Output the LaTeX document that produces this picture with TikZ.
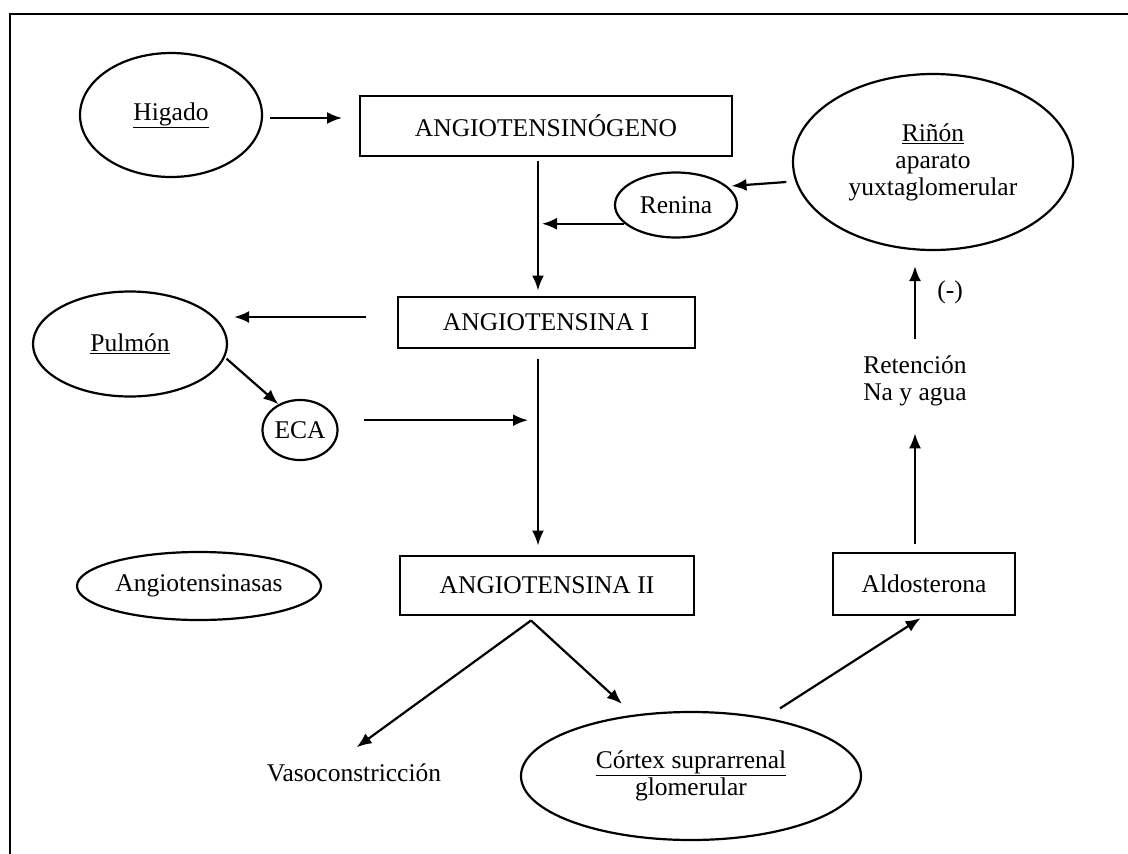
\documentclass[tikz,border=0pt]{standalone}
\usepackage{fontspec}
\setmainfont{Liberation Serif}
\usetikzlibrary{arrows.meta,shapes.geometric}
\begin{document}
\begin{tikzpicture}[x=1pt,y=-1pt,
  every node/.style={font=\fontsize{25.5}{27}\selectfont, inner sep=0pt},
  oval/.style={ellipse, draw, line width=2.2pt},
  stepbox/.style={rectangle, draw, line width=2pt},
  label/.style={align=center},
  arr/.style={-{Latex[length=15pt,width=12pt]}, line width=2.2pt}]
\useasboundingbox (0,0) rectangle (1128,854);
% frame
\draw[line width=2.8pt] (10,854) -- (10,14) -- (1128,14);

% nodes
\node[oval, minimum width=182pt, minimum height=124pt] (hig) at (171,115) {\underline{Higado}};
\node[stepbox, minimum width=372pt, minimum height=60pt] (angino) at (546,126) {ANGIOTENSINÓGENO};
\node[oval, minimum width=122pt, minimum height=65pt] (renina) at (676,205) {Renina};
\node[oval, minimum width=280pt, minimum height=176pt, label] (rinon) at (933,162) {\underline{Riñón}\\aparato\\yuxtaglomerular};
\node[stepbox, minimum width=297pt, minimum height=51pt] (ang1) at (546,322) {ANGIOTENSINA I};
\node[oval, minimum width=194pt, minimum height=105pt] (pulmon) at (130,344) {\underline{Pulmón}};
\node[oval, minimum width=75pt, minimum height=60pt] (eca) at (300,430) {ECA};
\node[stepbox, minimum width=294pt, minimum height=59pt] (ang2) at (547,585) {ANGIOTENSINA II};
\node[oval, minimum width=244pt, minimum height=68pt] (angasas) at (199,586) {Angiotensinasas};
\node[stepbox, minimum width=182pt, minimum height=62pt] (aldo) at (924,584) {Aldosterona};
\node[label] (reten) at (915,381) {Retención\\Na y agua};
\node (menos) at (950,292) {(-)};
\node (vaso) at (354,773) {Vasoconstricción};
\node[oval, minimum width=340pt, minimum height=128pt, label] (cortex) at (691,776) {\underline{Córtex suprarrenal}\\glomerular};

% junction points on the main vertical path
\coordinate (vline) at ([xshift=-8pt]angino.south);
\coordinate (apex) at ([xshift=-16pt,yshift=-5pt]ang2.south);

% connectors
\draw[arr, shorten <=7pt, shorten >=17pt] ([yshift=-3pt]hig.east) -- ([yshift=-3pt]hig.east -| angino.west);
\draw[arr, shorten <=4pt, shorten >=5pt] (vline) -- (vline |- ang1.north);
\draw[arr, shorten >=4pt] (renina.200) -- (renina.200 -| vline);
\draw[arr, shorten <=9pt, shorten >=4pt] (rinon.188) -- (renina.20);
\draw[arr, shorten <=31pt, shorten >=6pt] ([yshift=5pt]ang1.west) -- ([yshift=5pt]ang1.west -| pulmon.east);
\draw[arr, shorten <=2pt] (pulmon.-8) -- (eca.130);
\draw[arr, shorten <=27pt, shorten >=10pt] (eca.15) -- (eca.15 -| vline);
\draw[arr, shorten <=10pt, shorten >=9pt] (vline |- ang1.south) -- (vline |- ang2.north);
\draw[arr, shorten >=28pt] (apex) -- ([xshift=-20pt]vaso.north);
\draw[arr, shorten >=16pt] (apex) -- (cortex.133);
\draw[arr, shorten >=4pt] ([yshift=12pt]cortex.32) -- (aldo.south);
\draw[arr, shorten <=8pt, shorten >=27pt] (aldo.north -| reten) -- (reten.south);
\draw[arr, shorten <=17pt, shorten >=15pt] (reten.north) -- (reten.north |- rinon.south);
\end{tikzpicture}
\end{document}
